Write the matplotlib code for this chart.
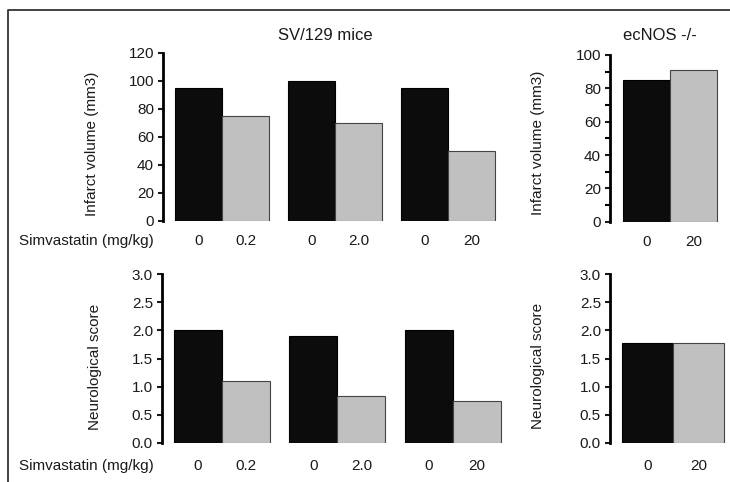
import matplotlib
matplotlib.use("Agg")
import matplotlib.pyplot as plt
from matplotlib.lines import Line2D
import numpy as np

plt.rcParams['font.family'] = ['Liberation Sans', 'DejaVu Sans']

# ---- data ----
sv_tick_labels = ['0', '0.2', '0', '2.0', '0', '20']
sv_infarct_ctrl = [95, 100, 95]
sv_infarct_simva = [75, 70, 50]
sv_neuro_ctrl = [2.0, 1.9, 2.0]
sv_neuro_simva = [1.1, 0.83, 0.75]

ecnos_tick_labels = ['0', '20']
ecnos_infarct = [85, 91]
ecnos_neuro = [1.78, 1.78]

infarct_ticks_sv = [0, 20, 40, 60, 80, 100, 120]
infarct_ticks_ec = [0, 20, 40, 60, 80, 100]
neuro_ticks = [0.0, 0.5, 1.0, 1.5, 2.0, 2.5, 3.0]

W, H = 730, 482
fig = plt.figure(figsize=(W / 100, H / 100), dpi=100)
fig.patch.set_facecolor('white')

FS = 11
BLACK = '#0c0c0c'
GRAY = '#c0c0c0'
TXT = '#1a1a1a'


def ax_px(left, top, right, bottom):
    return fig.add_axes([left / W, 1 - bottom / H, (right - left) / W, (bottom - top) / H])


def style(ax, yticks, ylim, xlim, xpad, fmt=None, minor=None):
    ax.set_ylim(*ylim)
    ax.set_xlim(*xlim)
    for s in ['top', 'right', 'bottom']:
        ax.spines[s].set_visible(False)
    ax.spines['left'].set_linewidth(2.0)
    ax.set_yticks(yticks)
    if fmt:
        ax.set_yticklabels([fmt.format(v) for v in yticks])
    if minor is not None:
        ax.set_yticks(minor, minor=True)
        ax.tick_params(axis='y', which='minor', length=3.5, width=1.5, direction='out')
    ax.tick_params(axis='y', which='major', length=3.5, width=1.5, direction='out',
                   labelsize=FS, pad=3, colors=TXT)
    ax.tick_params(axis='x', length=0, labelsize=FS, pad=xpad, colors=TXT)
    ax.patch.set_alpha(0)


def draw_pairs(ax, ctrl, simva, labels):
    w = 0.416
    g = np.arange(len(ctrl))
    ax.bar(g - w / 2, ctrl, width=w, color=BLACK, edgecolor='#000000', linewidth=0.8)
    ax.bar(g + w / 2, simva, width=w, color=GRAY, edgecolor='#444444', linewidth=0.8)
    pos = np.ravel(np.column_stack([g - w / 2, g + w / 2]))
    ax.set_xticks(pos)
    ax.set_xticklabels(labels)


# top-left
ax1 = ax_px(163, 53, 163 + 2.97 * 113, 221)
draw_pairs(ax1, sv_infarct_ctrl, sv_infarct_simva, sv_tick_labels)
style(ax1, infarct_ticks_sv, (0, 120), (-0.522, 2.448), xpad=9.5)

# bottom-left
ax2 = ax_px(162, 274.3, 162 + 2.969 * 115.5, 442.7)
draw_pairs(ax2, sv_neuro_ctrl, sv_neuro_simva, sv_tick_labels)
style(ax2, neuro_ticks, (0, 3), (-0.519, 2.45), xpad=12, fmt='{:.1f}')

# top-right
ax3 = ax_px(610, 55, 610 + 0.981 * 113, 221.7)
draw_pairs(ax3, [ecnos_infarct[0]], [ecnos_infarct[1]], ecnos_tick_labels)
style(ax3, infarct_ticks_ec, (0, 100), (-0.531, 0.45), xpad=9.5,
      minor=[10, 30, 50, 70, 90])

# bottom-right
ax4 = ax_px(610, 274.3, 610 + 0.976 * 122, 442.7)
draw_pairs(ax4, [ecnos_neuro[0]], [ecnos_neuro[1]], ecnos_tick_labels)
style(ax4, neuro_ticks, (0, 3), (-0.516, 0.46), xpad=12, fmt='{:.1f}')


def ftext(x, y, s, size=FS, **kw):
    fig.text(x / W, 1 - y / H, s, fontsize=size, color=TXT, **kw)


ftext(325, 35, 'SV/129 mice', size=12, ha='center', va='center')
ftext(660, 35, 'ecNOS -/-', size=12, ha='center', va='center')
ftext(19, 241.5, 'Simvastatin (mg/kg)', ha='left', va='center')
ftext(19, 466, 'Simvastatin (mg/kg)', ha='left', va='center')
ftext(92, 144, 'Infarct volume (mm3)', ha='center', va='center', rotation=90)
ftext(538, 143, 'Infarct volume (mm3)', ha='center', va='center', rotation=90)
ftext(95, 367, 'Neurological score', ha='center', va='center', rotation=90)
ftext(538, 366, 'Neurological score', ha='center', va='center', rotation=90)

# partial frame (left and top border lines)
fig.add_artist(Line2D([8 / W, 8 / W, 1.02], [-0.02, 1 - 10 / H, 1 - 10 / H],
                      transform=fig.transFigure, color='#333333', linewidth=1.3))

fig.savefig('out.png', dpi=100)
